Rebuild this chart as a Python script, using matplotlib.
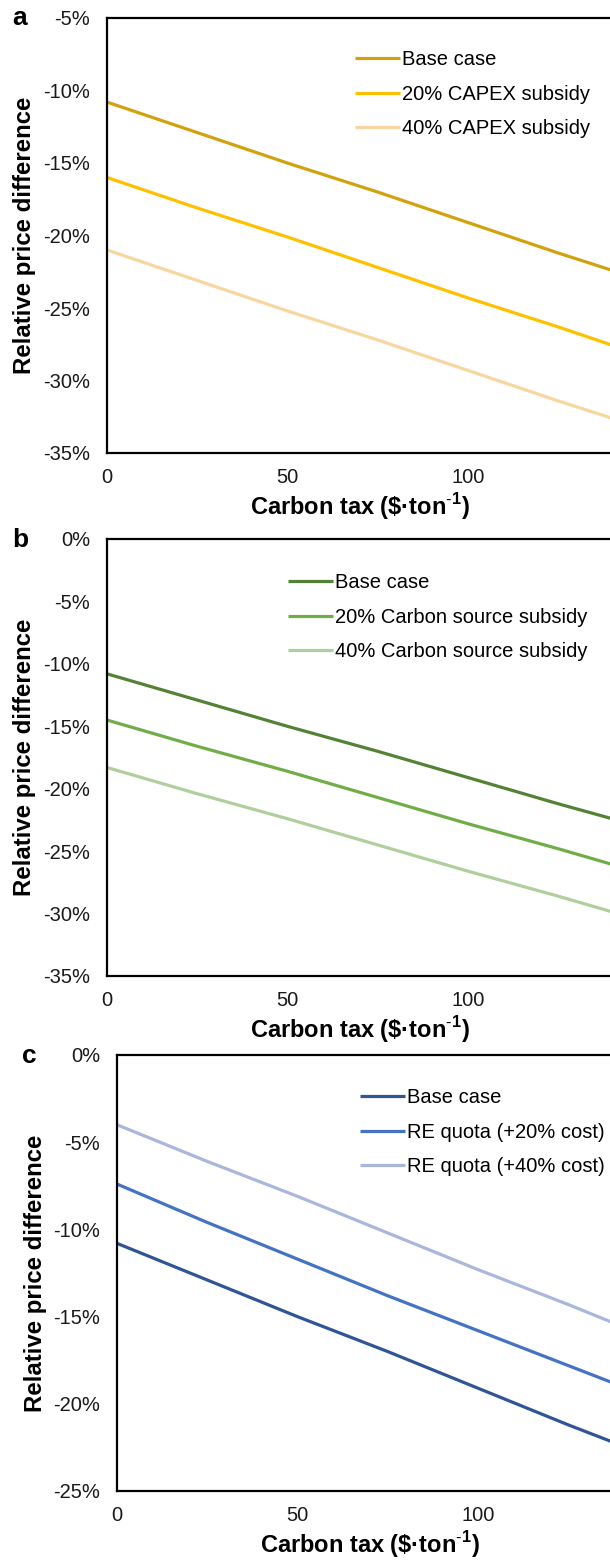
import matplotlib
matplotlib.use("Agg")
import matplotlib.pyplot as plt
from matplotlib.ticker import FuncFormatter, FixedLocator

plt.rcParams["font.family"] = ["Liberation Sans", "DejaVu Sans"]
plt.rcParams["axes.unicode_minus"] = False
plt.rcParams["mathtext.fontset"] = "custom"
plt.rcParams["mathtext.rm"] = "Liberation Sans"
plt.rcParams["mathtext.bf"] = "Liberation Sans:bold"

# Carbon tax levels ($/ton)
carbon_tax = [0, 25, 50, 75, 100, 125, 150]

# Relative price difference (%)
base_case = [-10.8, -12.9, -15.0, -17.0, -19.1, -21.2, -23.2]
capex_20 = [-16.0, -18.1, -20.1, -22.2, -24.3, -26.3, -28.4]
capex_40 = [-21.0, -23.1, -25.2, -27.2, -29.3, -31.4, -33.4]
carbon_src_20 = [-14.5, -16.6, -18.6, -20.7, -22.8, -24.8, -26.9]
carbon_src_40 = [-18.3, -20.4, -22.4, -24.5, -26.6, -28.6, -30.7]
re_quota_20 = [-7.4, -9.6, -11.7, -13.8, -15.8, -17.8, -19.8]
re_quota_40 = [-4.0, -6.1, -8.1, -10.2, -12.3, -14.3, -16.4]

labels_a = ["Base case", "20% CAPEX subsidy", "40% CAPEX subsidy"]
labels_b = ["Base case", "20% Carbon source subsidy", "40% Carbon source subsidy"]
labels_c = ["Base case", "RE quota (+20% cost)", "RE quota (+40% cost)"]

x_ticks = [0, 50, 100]
y_ticks_a = [-35, -30, -25, -20, -15, -10, -5]
y_ticks_b = [-35, -30, -25, -20, -15, -10, -5, 0]
y_ticks_c = [-25, -20, -15, -10, -5, 0]

colors_a = ["#D1A20E", "#FFC000", "#F9D6A0"]
colors_b = ["#548235", "#70AD47", "#B0CF9C"]
colors_c = ["#2F5597", "#4472C4", "#A9B7DC"]

x_label = r"Carbon tax (\$·ton$^{\mathbf{\text{-}1}}$)"
y_label = "Relative price difference"

W, H = 610, 1562
fig = plt.figure(figsize=(W / 100, H / 100), dpi=100)


def px_axes(left, top, bottom, width=505):
    return fig.add_axes([left / W, 1 - bottom / H, width / W, (bottom - top) / H])


def style(ax, yticks, ylim, letter, letter_xy, legend_xy, series, labels, colors):
    for ys, lab, col in zip(series, labels, colors):
        ax.plot(carbon_tax, ys, color=col, lw=2.3, label=lab, solid_capstyle="butt")
    ax.set_xlim(0, 140)
    ax.set_ylim(*ylim)
    ax.xaxis.set_major_locator(FixedLocator(x_ticks))
    ax.yaxis.set_major_locator(FixedLocator(yticks))
    ax.yaxis.set_major_formatter(FuncFormatter(lambda v, p: f"{v:.0f}%"))
    ax.tick_params(length=0, labelsize=14.5, colors="#1a1a1a")
    ax.tick_params(axis="y", pad=12)
    ax.tick_params(axis="x", pad=11)
    for side in ("left", "bottom", "top"):
        ax.spines[side].set_linewidth(1.6)
    ax.spines["right"].set_visible(False)
    ax.set_ylabel(y_label, fontsize=17.3, fontweight="bold", labelpad=5)
    ax.set_xlabel(x_label, fontsize=17, fontweight="bold", labelpad=3)
    fig.text(letter_xy[0] / W, 1 - letter_xy[1] / H, letter, fontsize=19,
             fontweight="bold", ha="left", va="center")
    ax.legend(loc="upper left", bbox_to_anchor=(legend_xy[0] / W, 1 - legend_xy[1] / H),
              bbox_transform=fig.transFigure, frameon=False, fontsize=14.5,
              handlelength=2.25, handletextpad=0.1, labelspacing=0.78,
              borderpad=0, borderaxespad=0)


ax_a = px_axes(107, 18, 453)
style(ax_a, y_ticks_a, (-35, -5), "a", (12, 18), (355, 50),
      [base_case, capex_20, capex_40], labels_a, colors_a)

ax_b = px_axes(107, 539, 976)
style(ax_b, y_ticks_b, (-35, 0), "b", (12, 540), (288, 573),
      [base_case, carbon_src_20, carbon_src_40], labels_b, colors_b)

ax_c = px_axes(117, 1055, 1491)
style(ax_c, y_ticks_c, (-25, 0), "c", (22, 1056), (360, 1088),
      [base_case, re_quota_20, re_quota_40], labels_c, colors_c)

fig.savefig("out.png", dpi=100)
